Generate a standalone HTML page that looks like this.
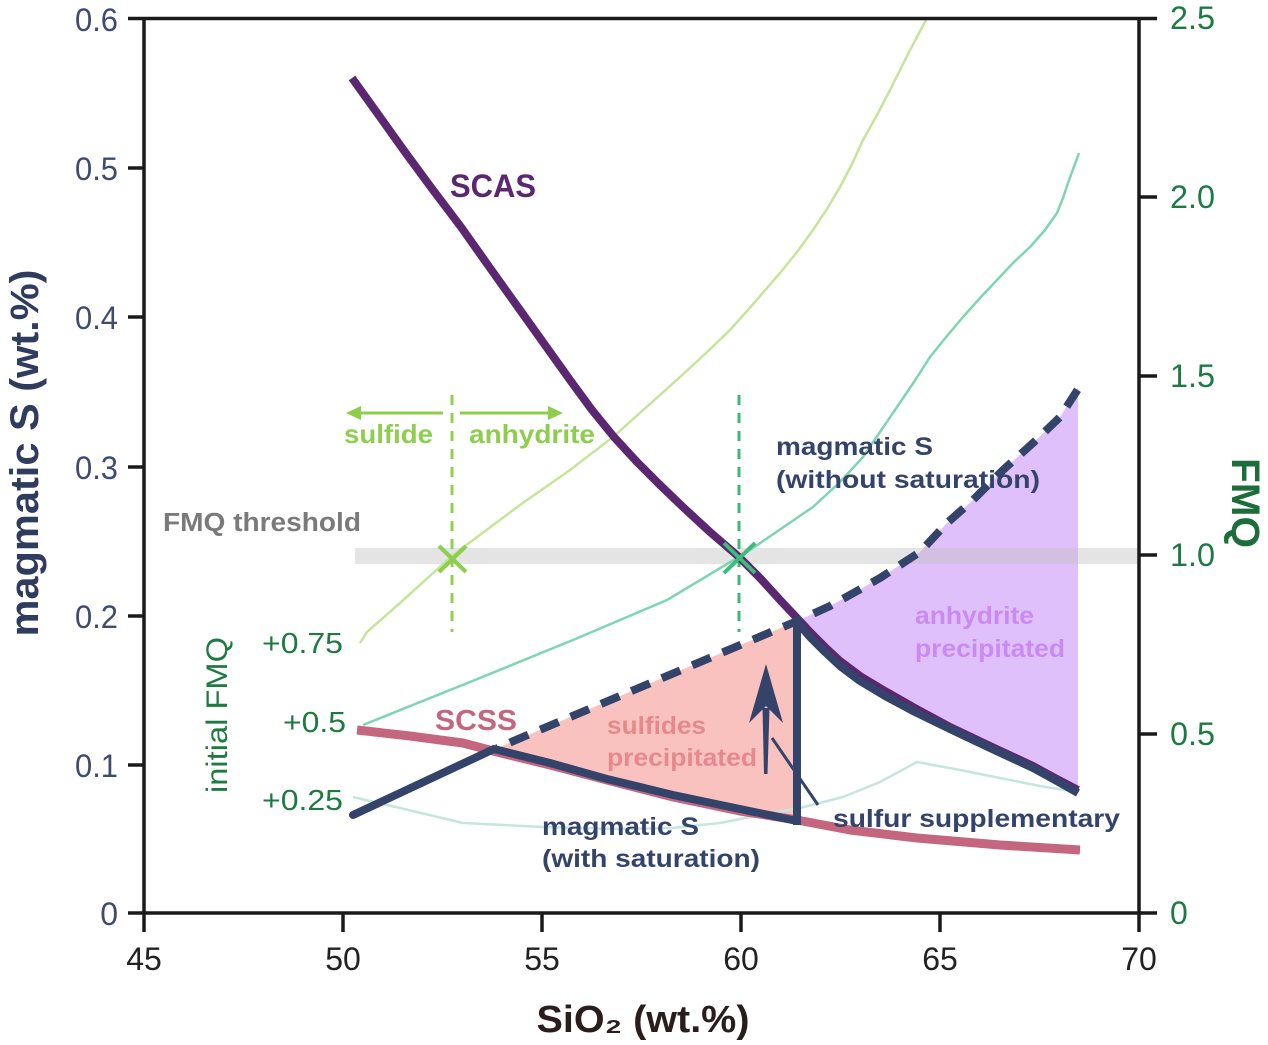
<!DOCTYPE html>
<html><head><meta charset="utf-8"><style>
html,body{margin:0;padding:0;background:#fff;}
svg{display:block;}
text{font-family:"Liberation Sans",Arial,sans-serif;}
</style></head><body>
<svg width="1268" height="1045" viewBox="0 0 1268 1045" xmlns="http://www.w3.org/2000/svg">
<rect width="1268" height="1045" fill="#fff"/>

<!-- fills -->
<polygon points="495,749 797,621 797,822 740,810 673,796 607,779 550,764" fill="#f9c2bf"/>
<polygon points="797,621 830,606 857,591 880,578 900,565 920,552 947,523 973,500 1003,470 1033,443 1060,417 1078,388 1078,792 1055,779 1033,767 990,747 950,728 913,710 885,695 860,680 840,665 825,651 810,636" fill="#e0c0fa"/>

<!-- FMQ threshold band -->
<rect x="355" y="548" width="784" height="16" fill="rgba(190,190,190,0.42)"/>
<text x="163" y="531" font-size="25.5" font-weight="bold" fill="#7a7a7a" textLength="198" lengthAdjust="spacingAndGlyphs">FMQ threshold</text>

<!-- FMQ curves -->
<polyline points="353,797 400,808 463,823 543,827 620,829 673,828 720,823 760,815 800,808 843,797 880,782 917,762 960,770 1000,778 1040,786 1077,792" fill="none" stroke="#c5e5de" stroke-width="2.5" stroke-linejoin="round"/>
<polyline points="363,725 470,682 573,640 667,600 747,552 813,507 840,482 863,457 880,432 897,407 914,382 930,357 947,336 963,317 980,298 997,280 1013,263 1030,247 1045,230 1057,213 1063,198 1068,183 1079,153" fill="none" stroke="#7dd5b4" stroke-width="2.5" stroke-linejoin="round"/>
<polyline points="360,643 367,632 400,603 453,555 520,505 570,470 613,437 650,404 680,377 705,354 730,330 755,302 780,273 797,252 813,230 827,209 840,187 852,164 863,140 877,115 890,90 908,54 927,18" fill="none" stroke="#c4e59a" stroke-width="2.5" stroke-linejoin="round"/>

<!-- green dashed verticals -->
<line x1="452" y1="395" x2="452" y2="632" stroke="#8fd14f" stroke-width="3" stroke-dasharray="10 8"/>
<line x1="739" y1="395" x2="739" y2="632" stroke="#3cb878" stroke-width="3" stroke-dasharray="10 8"/>

<!-- green arrows -->
<line x1="443" y1="413" x2="358" y2="413" stroke="#8dce4e" stroke-width="3"/>
<polygon points="346,413 361,406 361,420" fill="#8dce4e"/>
<line x1="460" y1="413" x2="551" y2="413" stroke="#8dce4e" stroke-width="3"/>
<polygon points="563,413 548,406 548,420" fill="#8dce4e"/>
<text x="344" y="443" font-size="26" font-weight="bold" fill="#8dce4e" textLength="89" lengthAdjust="spacingAndGlyphs">sulfide</text>
<text x="469" y="443" font-size="26" font-weight="bold" fill="#8dce4e" textLength="126" lengthAdjust="spacingAndGlyphs">anhydrite</text>

<!-- SCSS -->
<polyline points="357,730 410,736 463,743 497,752 550,765 607,780 673,797 740,811 797,820 850,830 917,838 1000,845 1080,850" fill="none" stroke="#c4667f" stroke-width="9" stroke-linejoin="round"/>

<!-- SCAS -->
<polyline points="352,78 380,117 405,152 433,190 461,227 490,268 520,310 545,345 570,380 592,410 614,437 637,462 660,485 684,508 710,532 739,557 760,578 780,600 797,618 810,632 825,647 840,661 860,676 885,691 913,707 950,727 990,746 1033,766 1055,778 1078,790" fill="none" stroke="#5b2770" stroke-width="8" stroke-linejoin="round"/>

<!-- annotation texts -->
<text x="450" y="197" font-size="32" font-weight="bold" fill="#5b2770" textLength="86" lengthAdjust="spacingAndGlyphs">SCAS</text>
<text x="435" y="730" font-size="29" font-weight="bold" fill="#c4667f" textLength="82" lengthAdjust="spacingAndGlyphs">SCSS</text>
<text x="776" y="455" font-size="25" font-weight="bold" fill="#34436a" textLength="157" lengthAdjust="spacingAndGlyphs">magmatic S</text>
<text x="776" y="488" font-size="25" font-weight="bold" fill="#34436a" textLength="264" lengthAdjust="spacingAndGlyphs">(without saturation)</text>
<text x="915" y="624" font-size="25" font-weight="bold" fill="#c98af2" textLength="119" lengthAdjust="spacingAndGlyphs">anhydrite</text>
<text x="915" y="657" font-size="25" font-weight="bold" fill="#c98af2" textLength="150" lengthAdjust="spacingAndGlyphs">precipitated</text>
<text x="607" y="734" font-size="25" font-weight="bold" fill="#e58a8b" textLength="99" lengthAdjust="spacingAndGlyphs">sulfides</text>
<text x="607" y="766" font-size="25" font-weight="bold" fill="#e58a8b" textLength="150" lengthAdjust="spacingAndGlyphs">precipitated</text>
<text x="542" y="835" font-size="25" font-weight="bold" fill="#34436a" textLength="157" lengthAdjust="spacingAndGlyphs">magmatic S</text>
<text x="542" y="867" font-size="25" font-weight="bold" fill="#34436a" textLength="218" lengthAdjust="spacingAndGlyphs">(with saturation)</text>
<text x="833" y="827" font-size="25" font-weight="bold" fill="#34436a" textLength="287" lengthAdjust="spacingAndGlyphs">sulfur supplementary</text>

<!-- navy magmatic S -->
<polyline points="353,815 494,749 550,763 607,779 673,795 740,809 797,821" fill="none" stroke="#34436a" stroke-width="8" stroke-linecap="round" stroke-linejoin="round"/>
<line x1="797" y1="825" x2="797" y2="618" stroke="#34436a" stroke-width="8"/>
<polyline points="797,622 810,637 825,652 840,666 860,681 885,696 913,711 950,729 990,748 1033,768 1055,780 1078,793" fill="none" stroke="#34436a" stroke-width="8" stroke-linejoin="round"/>
<polyline points="497,748 797,621 830,606 857,591 880,578 900,565 920,552 947,523 973,500 1003,470 1033,443 1060,417 1080,386" fill="none" stroke="#34436a" stroke-width="8" stroke-dasharray="20 13" stroke-dashoffset="-14"/>

<!-- arrow + leader -->
<path d="M764,774 L762.5,708 L769.5,708 L767.5,774 Z" fill="#34436a"/>
<path d="M766,664 L783,723 L766,706 L749,723 Z" fill="#34436a"/>
<line x1="772" y1="738" x2="818" y2="805" stroke="#34436a" stroke-width="3"/>

<!-- X markers -->
<g stroke="#8dce4e" stroke-width="4">
<line x1="439" y1="546" x2="466" y2="572"/><line x1="439" y1="572" x2="466" y2="546"/>
</g>
<g stroke="#3dbb7b" stroke-width="4">
<line x1="724" y1="543" x2="755" y2="573"/><line x1="724" y1="573" x2="755" y2="543"/>
</g>

<!-- initial FMQ labels -->
<text x="262" y="653" font-size="29" fill="#1e7a40" textLength="81" lengthAdjust="spacingAndGlyphs">+0.75</text>
<text x="283" y="732" font-size="29" fill="#1e7a40" textLength="63" lengthAdjust="spacingAndGlyphs">+0.5</text>
<text x="262" y="810" font-size="29" fill="#1e7a40" textLength="81" lengthAdjust="spacingAndGlyphs">+0.25</text>
<text transform="translate(227,715) rotate(-90)" text-anchor="middle" font-size="30" fill="#1e7a40" textLength="156" lengthAdjust="spacingAndGlyphs">initial FMQ</text>

<!-- axes -->
<g stroke="#1a1a1a" stroke-width="3.5" fill="none">
<line x1="144" y1="18.5" x2="144" y2="913"/>
<line x1="1139" y1="18.5" x2="1139" y2="913"/>
<line x1="128" y1="18.5" x2="1157" y2="18.5"/>
<line x1="128" y1="913" x2="1157" y2="913"/>
<line x1="128" y1="168" x2="144" y2="168"/>
<line x1="128" y1="317" x2="144" y2="317"/>
<line x1="128" y1="467" x2="144" y2="467"/>
<line x1="128" y1="616" x2="144" y2="616"/>
<line x1="128" y1="765" x2="144" y2="765"/>
<line x1="1139" y1="197" x2="1157" y2="197"/>
<line x1="1139" y1="376" x2="1157" y2="376"/>
<line x1="1139" y1="555" x2="1157" y2="555"/>
<line x1="1139" y1="734" x2="1157" y2="734"/>
<line x1="144" y1="913" x2="144" y2="932"/>
<line x1="343" y1="913" x2="343" y2="932"/>
<line x1="542" y1="913" x2="542" y2="932"/>
<line x1="741" y1="913" x2="741" y2="932"/>
<line x1="940" y1="913" x2="940" y2="932"/>
<line x1="1139" y1="913" x2="1139" y2="932"/>
</g>

<!-- left tick labels -->
<g font-size="32" fill="#3d4b6e" text-anchor="end">
<text x="118" y="31" textLength="43" lengthAdjust="spacingAndGlyphs">0.6</text>
<text x="118" y="180" textLength="43" lengthAdjust="spacingAndGlyphs">0.5</text>
<text x="118" y="329" textLength="43" lengthAdjust="spacingAndGlyphs">0.4</text>
<text x="118" y="479" textLength="43" lengthAdjust="spacingAndGlyphs">0.3</text>
<text x="118" y="628" textLength="43" lengthAdjust="spacingAndGlyphs">0.2</text>
<text x="118" y="777" textLength="43" lengthAdjust="spacingAndGlyphs">0.1</text>
<text x="118" y="925">0</text>
</g>

<!-- right tick labels -->
<g font-size="32" fill="#1d7a42">
<text x="1170" y="29" textLength="45" lengthAdjust="spacingAndGlyphs">2.5</text>
<text x="1170" y="208" textLength="45" lengthAdjust="spacingAndGlyphs">2.0</text>
<text x="1170" y="387" textLength="45" lengthAdjust="spacingAndGlyphs">1.5</text>
<text x="1170" y="566" textLength="45" lengthAdjust="spacingAndGlyphs">1.0</text>
<text x="1170" y="745" textLength="45" lengthAdjust="spacingAndGlyphs">0.5</text>
<text x="1170" y="924">0</text>
</g>

<!-- x tick labels -->
<g font-size="32" fill="#222" text-anchor="middle">
<text x="144" y="970">45</text>
<text x="343" y="970">50</text>
<text x="542" y="970">55</text>
<text x="741" y="970">60</text>
<text x="940" y="970">65</text>
<text x="1139" y="970">70</text>
</g>

<!-- axis titles -->
<text x="643" y="1032" text-anchor="middle" font-size="38" font-weight="bold" fill="#2a1d1d" textLength="213" lengthAdjust="spacingAndGlyphs">SiO₂ (wt.%)</text>
<text transform="translate(38,453) rotate(-90)" text-anchor="middle" font-size="40" font-weight="bold" fill="#2f3c5e" textLength="367" lengthAdjust="spacingAndGlyphs">magmatic S (wt.%)</text>
<text transform="translate(1232,503) rotate(90)" text-anchor="middle" font-size="40" font-weight="bold" fill="#1c6d3a" textLength="90" lengthAdjust="spacingAndGlyphs">FMQ</text>

</svg>
</body></html>
